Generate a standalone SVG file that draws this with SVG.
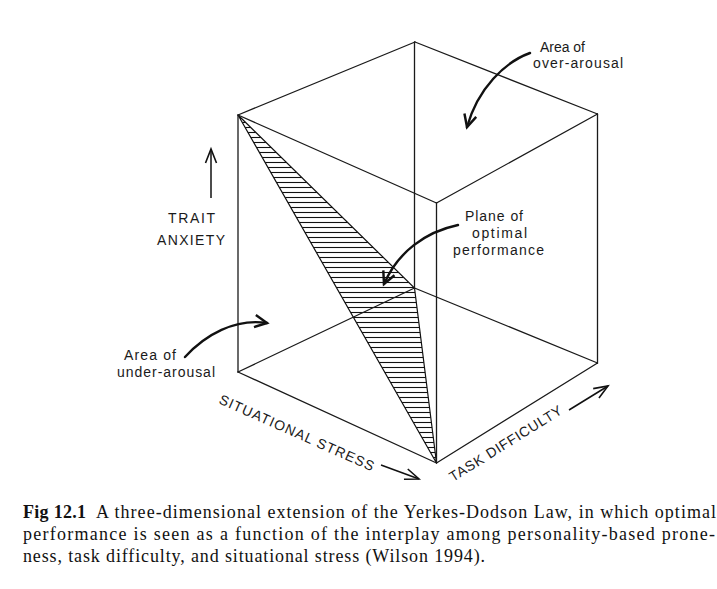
<svg xmlns="http://www.w3.org/2000/svg" width="717" height="589" viewBox="0 0 717 589">
  <style>
    .edge { stroke: #1a1a1a; stroke-width: 1.3; fill: none; stroke-linecap: round; }
    .lbl { font-family: "Liberation Sans", Arial, sans-serif; font-size: 14px; fill: #1a1a1a; }
    .cap { font-family: "Liberation Serif", "Times New Roman", serif; font-size: 18px; fill: #111; }
    .curve { stroke: #111; stroke-width: 2.4; fill: none; stroke-linecap: round; }
    .axis { stroke: #111; stroke-width: 1.5; fill: none; }
  </style>
  <defs>
    <pattern id="hatch" patternUnits="userSpaceOnUse" width="20" height="5">
      <line x1="0" y1="2.5" x2="20" y2="2.5" stroke="#111" stroke-width="1.1"/>
    </pattern>
    <marker id="headCurve" markerUnits="userSpaceOnUse" markerWidth="20" markerHeight="20" viewBox="-14 -8 18 16" refX="0" refY="0" orient="auto">
      <path d="M-11,-5.5 L0,0 L-11,5.5" fill="none" stroke="#111" stroke-width="2.2" stroke-linejoin="miter"/>
    </marker>
    <marker id="headAxis" markerUnits="userSpaceOnUse" markerWidth="20" markerHeight="20" viewBox="-16 -8 20 16" refX="0" refY="0" orient="auto">
      <path d="M-14,-5.5 L0,0 L-14,5.5" fill="none" stroke="#111" stroke-width="1.6"/>
    </marker>
  </defs>
  <rect width="717" height="589" fill="#ffffff"/>

  <g id="optimal-plane">
    <polygon points="238,115 414.5,288 436.5,463" fill="url(#hatch)" stroke="#111" stroke-width="1.2"/>
  </g>

  <g id="cube">
    <line class="edge" x1="238" y1="115" x2="415" y2="42"/>
    <line class="edge" x1="415" y1="42" x2="597.5" y2="114"/>
    <line class="edge" x1="597.5" y1="114" x2="436.5" y2="203"/>
    <line class="edge" x1="436.5" y1="203" x2="238" y2="115"/>
    <line class="edge" x1="238" y1="115" x2="238" y2="372"/>
    <line class="edge" x1="414.5" y1="42" x2="414.5" y2="288" stroke-width="1"/>
    <line class="edge" x1="597.5" y1="114" x2="597.5" y2="363"/>
    <line class="edge" x1="436.5" y1="203" x2="436.5" y2="463"/>
    <line class="edge" x1="238" y1="372" x2="414.5" y2="288" stroke-width="1"/>
    <line class="edge" x1="414.5" y1="288" x2="597.5" y2="363" stroke-width="1"/>
    <line class="edge" x1="597.5" y1="363" x2="436.5" y2="463"/>
    <line class="edge" x1="436.5" y1="463" x2="238" y2="372"/>
  </g>

  <g id="label-over-arousal">
    <text class="lbl" x="540" y="52" textLength="45" lengthAdjust="spacingAndGlyphs">Area of</text>
    <text class="lbl" x="533" y="68" textLength="90" lengthAdjust="spacing">over-arousal</text>
  </g>
  <g id="label-trait-anxiety">
    <text class="lbl" x="168" y="223" textLength="47" lengthAdjust="spacing">TRAIT</text>
    <text class="lbl" x="157" y="245" textLength="68" lengthAdjust="spacing">ANXIETY</text>
  </g>
  <g id="label-plane">
    <text class="lbl" x="465" y="221" textLength="58" lengthAdjust="spacing">Plane of</text>
    <text class="lbl" x="472" y="238" textLength="55" lengthAdjust="spacing">optimal</text>
    <text class="lbl" x="453" y="255" textLength="91" lengthAdjust="spacing">performance</text>
  </g>
  <g id="label-under-arousal">
    <text class="lbl" x="124" y="360" textLength="52" lengthAdjust="spacing">Area of</text>
    <text class="lbl" x="117" y="377" textLength="98" lengthAdjust="spacing">under-arousal</text>
  </g>
  <g id="label-situational-stress">
    <text class="lbl" transform="translate(218,403) rotate(24)" textLength="168" lengthAdjust="spacing">SITUATIONAL STRESS</text>
  </g>
  <g id="label-task-difficulty">
    <text class="lbl" transform="translate(453,482) rotate(-32)" textLength="130" lengthAdjust="spacing">TASK DIFFICULTY</text>
  </g>

  <g id="connectors">
    <path class="curve" d="M530,53 C505,62 478,88 467,127" marker-end="url(#headCurve)"/>
    <path class="curve" d="M458,225 C425,232 398,252 384,284" marker-end="url(#headCurve)"/>
    <path class="curve" d="M185,357 C205,335 235,318 267,323" marker-end="url(#headCurve)"/>
    <line class="axis" x1="211" y1="198" x2="211" y2="149" marker-end="url(#headAxis)"/>
    <line class="axis" x1="381" y1="465" x2="419" y2="479" marker-end="url(#headAxis)"/>
    <line class="axis" x1="569" y1="410" x2="608" y2="386" marker-end="url(#headAxis)"/>
  </g>

  <g id="caption">
    <text class="cap" x="23" y="518" font-weight="bold" textLength="63" lengthAdjust="spacing">Fig 12.1</text>
    <text class="cap" x="96" y="518" textLength="620" lengthAdjust="spacing">A three-dimensional extension of the Yerkes-Dodson Law, in which optimal</text>
    <text class="cap" x="23" y="540" textLength="692" lengthAdjust="spacing">performance is seen as a function of the interplay among personality-based prone-</text>
    <text class="cap" x="23" y="562" textLength="462" lengthAdjust="spacing">ness, task difficulty, and situational stress (Wilson 1994).</text>
  </g>
</svg>
